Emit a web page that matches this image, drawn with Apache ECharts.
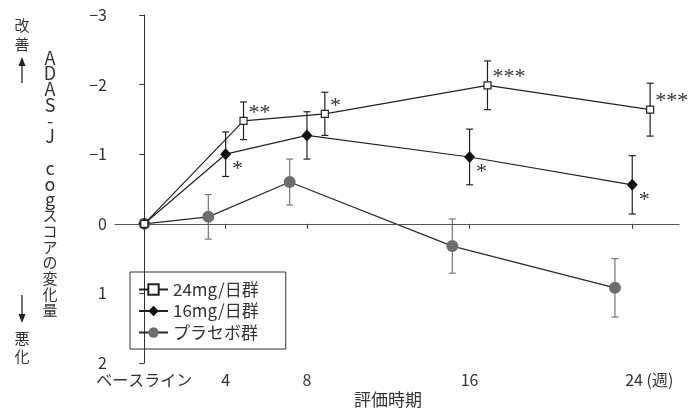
<!DOCTYPE html>
<html><head><meta charset="utf-8">
<script src="https://cdn.jsdelivr.net/npm/echarts@6/dist/echarts.min.js"></script>
<style>html,body{margin:0;padding:0;background:#fff}#c{width:691px;height:416px}</style>
</head><body><div id="c"></div>
<script>
const weeks = [0, 4, 8, 16, 24];
const xTickLabels = ['ベースライン', '4', '8', '16', '24'];
const seriesNames = ['24mg/日群', '16mg/日群', 'プラセボ群'];
const mean24 = [0, -1.48, -1.58, -1.99, -1.64];
const se24 = [0, 0.27, 0.31, 0.35, 0.38];
const mean16 = [0, -1.00, -1.27, -0.96, -0.56];
const se16 = [0, 0.32, 0.34, 0.40, 0.42];
const meanPl = [0, -0.10, -0.60, 0.32, 0.92];
const sePl = [0, 0.32, 0.33, 0.39, 0.42];
const sig24 = ['', '**', '*', '***', '***'];
const sig16 = ['', '*', '', '*', '*'];
const yTitle = 'ADAS-J cogスコアの変化量';

const FONT = '"Noto Sans CJK JP", "Noto Sans", sans-serif';
const TXT = '#333';
// horizontal dodge (in weeks) so that groups don't overlap; baseline shared
const dodge = {pl: -0.85, d16: 0, d24: 0.88};
function pts(mean, d) { return weeks.map((w, i) => [w === 0 ? w : w + d, mean[i]]); }
function errs(mean, se, d) {
  return weeks.map((w, i) => [w === 0 ? w : w + d, mean[i], se[i]]).filter(r => r[2] > 0);
}
function errSeries(data, color) {
  return {
    type: 'custom', z: 1, silent: true, data: data,
    renderItem: function (params, api) {
      const x = api.value(0), y = api.value(1), e = api.value(2);
      const a = api.coord([x, y - e]), b = api.coord([x, y + e]);
      const h = 3.5, st = {stroke: color, lineWidth: 1.2};
      return {type: 'group', children: [
        {type: 'line', shape: {x1: a[0], y1: a[1], x2: b[0], y2: b[1]}, style: st},
        {type: 'line', shape: {x1: a[0] - h, y1: a[1], x2: a[0] + h, y2: a[1]}, style: st},
        {type: 'line', shape: {x1: b[0] - h, y1: b[1], x2: b[0] + h, y2: b[1]}, style: st}
      ]};
    }
  };
}
// vertical (stacked) axis title, latin glyphs slightly larger
const yTitleRich = yTitle.split('').map(ch => /[A-Za-z\-]/.test(ch) ? '{l|' + ch + '}' : (ch === ' ' ? '{j| }' : '{j|' + ch + '}')).join('\n');
const sigLabel = {fontFamily: '"Liberation Serif", serif', fontSize: 22, color: TXT};

const chart = echarts.init(document.getElementById('c'), null, {renderer: 'canvas'});
chart.setOption({
  animation: false,
  grid: {left: 115, right: 12, top: 15, bottom: 53},
  legend: {
    orient: 'vertical', left: 130, top: 272,
    data: seriesNames,
    borderColor: '#333', borderWidth: 1, borderRadius: 0,
    padding: [9, 27, 8, 8], itemGap: 4.5, itemWidth: 29, itemHeight: 13,
    textStyle: {fontFamily: FONT, fontSize: 17, color: TXT}
  },
  xAxis: {
    type: 'value', min: -1.441, max: 26.30,
    axisLine: {lineStyle: {color: '#333', width: 1}},
    axisTick: {customValues: weeks, length: 5, lineStyle: {color: '#333'}},
    axisLabel: {
      customValues: weeks, margin: 9, fontFamily: FONT, fontSize: 16, color: TXT,
      formatter: function (v) {
        const i = weeks.indexOf(v);
        const t = xTickLabels[i];
        if (i === weeks.length - 1) return '{s| }' + t + ' (週)';
        return t;
      },
      rich: {s: {width: 34}}
    },
    splitLine: {show: false}
  },
  yAxis: {
    type: 'value', inverse: true, min: -3, max: 2, interval: 1,
    axisLine: {show: true, lineStyle: {color: '#333', width: 1}},
    axisTick: {show: true, length: 5, lineStyle: {color: '#333'}},
    axisLabel: {margin: 8, fontFamily: FONT, fontSize: 16, color: TXT,
      formatter: v => (v < 0 ? '\u2212' + Math.abs(v) : String(v))},
    splitLine: {show: false}
  },
  graphic: [
    {type: 'text', x: 50, y: 50, style: {
      text: yTitleRich, fill: TXT, align: 'center',
      rich: {
        l: {fontFamily: FONT, fontSize: 18, lineHeight: 15.75, color: TXT},
        j: {fontFamily: FONT, fontSize: 15, lineHeight: 15.75, color: TXT}
      }}},
    {type: 'text', x: 22, y: 16, style: {text: '改\n善', font: '15px ' + FONT, fill: TXT, align: 'center', lineHeight: 19}},
    {type: 'text', x: 22, y: 329, style: {text: '悪\n化', font: '15px ' + FONT, fill: TXT, align: 'center', lineHeight: 18}},
    {type: 'line', shape: {x1: 22, y1: 83, x2: 22, y2: 62}, style: {stroke: '#222', lineWidth: 1.3}},
    {type: 'polygon', shape: {points: [[22, 57], [18.5, 66], [25.5, 66]]}, style: {fill: '#222'}},
    {type: 'line', shape: {x1: 22, y1: 295, x2: 22, y2: 318}, style: {stroke: '#222', lineWidth: 1.3}},
    {type: 'polygon', shape: {points: [[22, 323], [18.5, 314], [25.5, 314]]}, style: {fill: '#222'}},
    {type: 'text', x: 388, y: 391, style: {text: '評価時期', font: '17px ' + FONT, fill: TXT, align: 'center'}}
  ],
  series: [
    errSeries(errs(meanPl, sePl, dodge.pl), '#777'),
    errSeries(errs(mean16, se16, dodge.d16), '#222'),
    errSeries(errs(mean24, se24, dodge.d24), '#222'),
    {
      name: seriesNames[2], type: 'line', data: pts(meanPl, dodge.pl),
      symbol: 'circle', symbolSize: 12,
      lineStyle: {color: '#2a2a2a', width: 1.2},
      itemStyle: {color: '#6e6e6e', borderWidth: 0},
      z: 3,
      markLine: {silent: true, symbol: 'none', label: {show: false},
        lineStyle: {color: '#555', width: 1, type: 'solid'}, data: [{yAxis: 0}]}
    },
    {
      name: seriesNames[1], type: 'line', data: pts(mean16, dodge.d16),
      symbol: 'diamond', symbolSize: [11, 12],
      lineStyle: {color: '#222', width: 1.2},
      itemStyle: {color: '#111', borderWidth: 0},
      z: 4,
      label: Object.assign({show: true, position: 'right', distance: 0, offset: [1, 15],
        formatter: p => sig16[p.dataIndex]}, sigLabel)
    },
    {
      name: seriesNames[0], type: 'line', data: pts(mean24, dodge.d24),
      symbol: 'rect', symbolSize: 7,
      lineStyle: {color: '#222', width: 1.2},
      itemStyle: {color: '#fff', borderColor: '#222', borderWidth: 1.2},
      z: 5,
      label: Object.assign({show: true, position: 'right', distance: 0, offset: [1, -8],
        formatter: p => sig24[p.dataIndex]}, sigLabel)
    }
  ]
});
</script></body></html>
